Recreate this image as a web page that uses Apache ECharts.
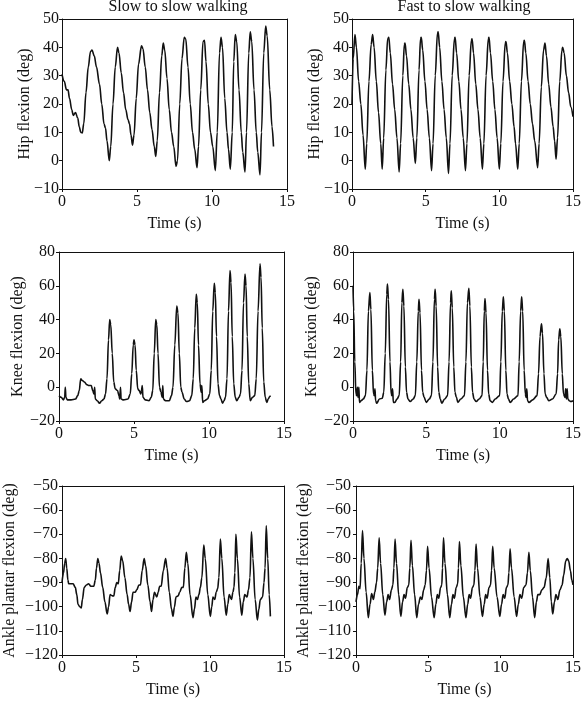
<!DOCTYPE html>
<html>
<head>
<meta charset="utf-8">
<script src="https://cdn.jsdelivr.net/npm/echarts@6/dist/echarts.min.js"></script>
<style>html,body{margin:0;padding:0;background:#fff}#c{width:584px;height:701px}</style>
</head>
<body>
<div id="c"></div>
<script>
var columnTitles = ["Slow to slow walking", "Fast to slow walking"];
var yNames = ["Hip flexion (deg)", "Knee flexion (deg)", "Ankle plantar flexion (deg)"];
var xName = "Time (s)";
var xTicks = [0, 5, 10, 15];
var hipTicks = [-10, 0, 10, 20, 30, 40, 50];
var kneeTicks = [-20, 0, 20, 40, 60, 80];
var ankleTicks = [-120, -110, -100, -90, -80, -70, -60, -50];

var hipSlow = [[0,30.5],[0.15,28],[0.3,25],[0.4,25],[0.5,22],[0.65,18],[0.75,16],[0.9,17],[1.05,15],[1.15,12],[1.25,10],[1.35,9.8],[1.45,13],[1.6,24],[1.75,33],[1.9,38.5],[2.0,39],[2.15,37],[2.3,33],[2.5,27],[2.65,20],[2.8,13],[2.9,11.5],[3.0,7],[3.15,0],[3.25,5],[3.4,20],[3.55,33],[3.7,40],[3.8,38],[3.95,31],[4.1,24],[4.25,18],[4.4,14.5],[4.5,13],[4.6,9],[4.7,5.5],[4.8,9],[4.95,22],[5.1,34],[5.3,40.5],[5.4,39.5],[5.55,33],[5.7,25],[5.85,17],[6.0,11],[6.15,5],[6.25,1.5],[6.35,7],[6.5,24],[6.65,37],[6.75,41.5],[6.85,39],[7.0,29],[7.15,18],[7.3,10],[7.45,5],[7.6,-2],[7.7,0],[7.85,20],[8.0,36],[8.15,43.5],[8.25,43],[8.4,33],[8.55,20],[8.7,10],[8.85,4],[9.0,-2.5],[9.1,5],[9.25,25],[9.4,42],[9.5,42.5],[9.6,35],[9.75,20],[9.9,10],[10.05,5],[10.22,-3.5],[10.35,10],[10.5,38],[10.6,43.5],[10.7,40],[10.85,22],[11.0,10],[11.1,4],[11.22,-3],[11.35,10],[11.45,35],[11.55,44.5],[11.65,42],[11.8,25],[11.95,10],[12.05,3],[12.2,-4],[12.3,10],[12.45,38],[12.55,45.5],[12.65,42],[12.8,25],[12.95,10],[13.05,3],[13.2,-5],[13.3,10],[13.45,38],[13.58,47.5],[13.68,44],[13.85,25],[14.0,12],[14.1,5]];

var hipFast = [[0,20],[0.08,36],[0.2,44.5],[0.3,40],[0.45,28],[0.6,20],[0.75,9],[0.9,-3],[1.0,6],[1.15,28],[1.3,41],[1.4,44.5],[1.5,40],[1.65,28],[1.8,17],[1.95,6],[2.05,-3],[2.15,8],[2.3,32],[2.42,43],[2.5,43.5],[2.6,38],[2.75,27],[2.9,18],[3.05,8],[3.2,-4],[3.3,6],[3.45,30],[3.55,41],[3.6,41.5],[3.7,37],[3.85,27],[4.0,18],[4.15,8],[4.3,-1],[4.4,8],[4.55,32],[4.65,43],[4.7,43.5],[4.8,39],[4.95,28],[5.1,18],[5.25,8],[5.4,-3.5],[5.5,6],[5.65,30],[5.8,45],[5.85,45.5],[5.95,40],[6.1,28],[6.25,18],[6.4,8],[6.55,-4.5],[6.65,6],[6.8,30],[6.95,43],[7.0,43.5],[7.1,38],[7.25,28],[7.4,18],[7.55,8],[7.7,-3.5],[7.8,6],[7.95,30],[8.1,42.5],[8.15,43],[8.25,38],[8.4,27],[8.55,18],[8.7,8],[8.85,-3],[8.95,6],[9.1,30],[9.25,43],[9.3,43.5],[9.4,38],[9.55,28],[9.7,18],[9.85,8],[10.0,-3],[10.1,6],[10.25,28],[10.4,41.5],[10.45,42],[10.55,38],[10.7,28],[10.85,20],[11.0,12],[11.1,6],[11.25,-3],[11.35,6],[11.5,28],[11.65,42],[11.7,42.5],[11.8,38],[11.95,28],[12.1,20],[12.25,13],[12.4,7],[12.6,-2.5],[12.7,6],[12.85,26],[13.0,39],[13.1,41.5],[13.2,37],[13.35,27],[13.5,19],[13.65,12],[13.75,7],[13.85,0.5],[13.95,8],[14.1,28],[14.25,39],[14.3,40],[14.4,38],[14.55,30],[14.7,24],[14.85,19],[15,15.5]];

var kneeSlow = [[0,-5],[0.15,-6],[0.3,-7.5],[0.38,-6],[0.42,0],[0.46,-6],[0.55,-7.5],[0.8,-7.5],[1.1,-7],[1.25,-5],[1.35,-2],[1.45,5],[1.55,4],[1.7,3],[1.85,1.5],[2.0,1],[2.15,1],[2.25,-2],[2.33,-4],[2.38,0],[2.42,-7],[2.55,-8],[2.7,-9.5],[2.85,-8],[3.0,-7],[3.1,-4],[3.2,5],[3.3,28],[3.38,40],[3.45,37],[3.55,20],[3.65,3],[3.75,-1],[3.9,-2],[4.0,-5],[4.05,-7],[4.1,0],[4.14,-7],[4.3,-7.5],[4.6,-7],[4.75,-4],[4.85,8],[4.95,25],[5.0,28],[5.07,25],[5.15,10],[5.25,-1],[5.35,-2],[5.45,-4],[5.5,-2],[5.55,1],[5.6,-6],[5.75,-7.5],[6.0,-8],[6.15,-6],[6.25,-2],[6.35,20],[6.45,40],[6.52,37],[6.6,20],[6.7,0],[6.8,-3],[6.88,-6],[6.92,1],[6.96,-7],[7.1,-8],[7.35,-8],[7.5,-5],[7.6,0],[7.72,25],[7.85,48],[7.93,44],[8.02,20],[8.12,0],[8.2,-3],[8.35,-7],[8.5,-8.5],[8.7,-8],[8.85,-5],[8.95,5],[9.05,35],[9.15,55],[9.22,50],[9.3,25],[9.4,2],[9.48,-3],[9.52,1],[9.58,-9],[9.7,-8],[9.9,-7],[10.05,-4],[10.15,10],[10.25,45],[10.35,61.5],[10.42,56],[10.5,30],[10.6,2],[10.7,-5],[10.8,-7],[10.9,-9.5],[11.0,-8],[11.1,-6],[11.2,5],[11.3,45],[11.4,69],[11.47,62],[11.55,30],[11.65,2],[11.75,-6],[11.85,-8],[12.0,-6],[12.1,-4],[12.2,10],[12.3,50],[12.4,67],[12.47,60],[12.55,30],[12.65,2],[12.75,-8],[12.9,-6],[13.05,-5],[13.15,5],[13.27,45],[13.4,73],[13.47,65],[13.55,35],[13.65,3],[13.75,-6],[13.85,-9],[13.95,-7],[14.05,-5.5],[14.1,-5]];

var kneeFast = [[0,60],[0.05,45],[0.12,15],[0.2,-4],[0.25,-5],[0.3,0],[0.34,-6],[0.4,0],[0.44,-9],[0.55,-8],[0.7,-7],[0.85,-5],[0.95,10],[1.05,45],[1.15,56],[1.22,46],[1.32,10],[1.4,-4],[1.45,-5],[1.5,-1],[1.54,-8],[1.62,-9.5],[1.8,-7],[2.0,-6.5],[2.1,-3],[2.2,20],[2.3,55],[2.35,61],[2.42,52],[2.52,15],[2.6,-4],[2.65,-5],[2.7,-1],[2.75,-9],[2.85,-9],[3.0,-7],[3.15,-5],[3.25,15],[3.33,50],[3.4,58],[3.47,48],[3.57,12],[3.65,-3],[3.75,-7],[3.9,-8.5],[4.1,-7],[4.25,-5],[4.35,15],[4.45,45],[4.5,52],[4.57,44],[4.67,10],[4.75,-3],[4.85,-6],[5.0,-9],[5.2,-7],[5.35,-5],[5.45,15],[5.55,52],[5.6,58],[5.67,48],[5.77,12],[5.85,-3],[5.95,-7],[6.05,-9.5],[6.25,-7],[6.45,-5],[6.55,15],[6.65,50],[6.7,57],[6.77,47],[6.87,12],[6.95,-3],[7.05,-6],[7.15,-9],[7.35,-7],[7.6,-5],[7.7,15],[7.8,50],[7.9,58.5],[7.97,48],[8.07,12],[8.15,-3],[8.25,-7],[8.4,-8.5],[8.6,-7],[8.8,-5],[8.88,15],[8.95,45],[9.0,52.5],[9.07,44],[9.17,10],[9.25,-4],[9.35,-8],[9.5,-9],[9.7,-7],[10.0,-5],[10.08,15],[10.18,45],[10.25,53.5],[10.32,45],[10.42,10],[10.5,-4],[10.6,-7],[10.72,-9],[10.95,-7],[11.25,-5],[11.33,15],[11.43,45],[11.5,53.5],[11.57,45],[11.67,10],[11.75,-4],[11.8,-6],[11.85,-1],[11.9,-8],[12.0,-9],[12.25,-7.5],[12.55,-5],[12.65,8],[12.75,30],[12.85,37.5],[12.92,32],[13.02,8],[13.1,-4],[13.2,-6],[13.35,-8],[13.6,-7],[13.85,-4],[13.95,8],[14.02,28],[14.1,34.5],[14.17,30],[14.27,8],[14.35,-4],[14.45,-6],[14.5,-1],[14.55,-7],[14.6,-1],[14.65,-7],[14.75,-8],[14.85,-8.5],[15,-8]];

var ankleSlow = [[0,-90],[0.1,-86],[0.18,-82],[0.25,-80],[0.32,-84],[0.4,-89],[0.45,-90.5],[0.6,-90.5],[0.75,-90.5],[0.9,-92],[1.0,-95],[1.08,-99],[1.2,-100],[1.3,-100.5],[1.38,-97],[1.5,-92],[1.65,-91],[1.8,-90.5],[1.95,-91.5],[2.15,-91.5],[2.25,-89],[2.33,-84],[2.42,-80],[2.5,-82],[2.6,-86],[2.75,-92],[2.9,-98],[3.05,-103],[3.15,-100],[3.25,-95],[3.4,-95.5],[3.5,-95.5],[3.6,-92],[3.7,-90],[3.8,-90.5],[3.9,-85],[4.0,-79],[4.1,-81],[4.25,-88],[4.4,-95],[4.5,-99],[4.6,-102],[4.7,-98],[4.8,-94],[4.95,-94],[5.05,-93],[5.2,-91],[5.3,-91],[5.42,-85],[5.55,-80],[5.65,-83],[5.8,-91],[5.95,-98],[6.05,-102],[6.15,-97],[6.25,-94],[6.4,-96],[6.5,-94],[6.6,-91.5],[6.7,-91.5],[6.85,-85],[7.0,-80],[7.1,-84],[7.25,-94],[7.4,-101],[7.5,-104],[7.6,-100],[7.7,-96],[7.85,-95.5],[7.95,-94],[8.1,-92],[8.2,-92],[8.3,-84],[8.4,-77.5],[8.5,-82],[8.65,-95],[8.85,-104.5],[8.95,-101],[9.05,-96],[9.15,-97],[9.25,-95],[9.35,-92],[9.45,-88],[9.58,-74.5],[9.68,-80],[9.85,-95],[10.02,-104],[10.12,-100],[10.2,-96],[10.32,-97],[10.42,-94],[10.52,-92.5],[10.6,-88],[10.7,-72],[10.8,-80],[10.95,-96],[11.1,-103.5],[11.2,-99],[11.3,-95],[11.45,-97],[11.55,-94],[11.62,-92],[11.68,-86],[11.75,-70],[11.85,-80],[12.0,-96],[12.15,-103.5],[12.25,-98],[12.35,-95],[12.5,-96],[12.6,-93],[12.7,-88],[12.8,-69],[12.9,-80],[13.05,-97],[13.2,-105.5],[13.3,-101],[13.4,-97],[13.55,-96],[13.65,-90],[13.72,-84],[13.8,-66.5],[13.9,-80],[14.0,-95],[14.08,-104]];

var ankleFast = [[0,-98],[0.1,-95],[0.2,-91.5],[0.28,-92.5],[0.36,-82],[0.45,-68.5],[0.55,-80],[0.7,-94],[0.85,-104.5],[0.97,-99],[1.08,-94.5],[1.2,-97],[1.3,-94],[1.42,-90],[1.5,-84],[1.6,-71.5],[1.7,-82],[1.85,-95],[2.0,-103.5],[2.12,-98],[2.22,-95],[2.32,-97],[2.45,-93],[2.55,-91],[2.62,-84],[2.7,-72],[2.8,-82],[2.95,-95],[3.1,-104],[3.22,-98],[3.32,-95],[3.42,-96.5],[3.55,-92],[3.65,-91],[3.72,-84],[3.8,-72.5],[3.9,-83],[4.05,-95],[4.2,-104.5],[4.32,-99],[4.45,-96],[4.55,-97],[4.68,-93],[4.78,-91],[4.87,-85],[4.95,-75],[5.05,-84],[5.22,-96],[5.4,-104.5],[5.52,-99],[5.62,-95],[5.72,-96.5],[5.85,-92],[5.93,-91],[5.98,-84],[6.05,-71.5],[6.15,-82],[6.32,-95],[6.48,-104.5],[6.6,-99],[6.7,-95],[6.8,-96.5],[6.93,-92],[7.03,-90.5],[7.08,-84],[7.15,-73],[7.25,-83],[7.42,-96],[7.6,-104.5],[7.72,-99],[7.82,-95],[7.92,-96.5],[8.05,-92],[8.15,-91],[8.22,-85],[8.3,-74],[8.4,-84],[8.57,-96],[8.74,-104],[8.86,-99],[8.96,-95],[9.06,-96.5],[9.2,-92],[9.3,-91],[9.37,-85],[9.45,-75],[9.55,-84],[9.75,-96],[9.94,-104],[10.06,-99],[10.17,-95],[10.28,-96.5],[10.4,-92],[10.5,-91],[10.57,-86],[10.65,-76],[10.75,-84],[10.93,-96],[11.1,-104],[11.22,-99],[11.33,-95],[11.45,-96.5],[11.6,-92],[11.75,-91],[11.85,-86],[11.95,-77.5],[12.05,-85],[12.2,-96],[12.35,-104.5],[12.47,-98],[12.57,-95],[12.7,-95],[12.85,-93],[13.0,-92],[13.15,-88],[13.28,-80],[13.4,-88],[13.5,-98],[13.6,-103],[13.72,-98],[13.82,-95],[13.95,-97],[14.1,-93],[14.25,-91],[14.35,-87],[14.5,-81],[14.6,-80],[14.7,-81],[14.82,-85],[14.92,-89],[15,-91]];

var FONT = "Liberation Serif";
var panels = [
  {data: hipSlow,   ticks: hipTicks,   step: 10, name: yNames[0], grid: {left: 62,  top: 19,  width: 225, height: 170}, nameGap: 29, margin: 3},
  {data: hipFast,   ticks: hipTicks,   step: 10, name: yNames[0], grid: {left: 352, top: 19,  width: 223, height: 170}, nameGap: 29, margin: 3},
  {data: kneeSlow,  ticks: kneeTicks,  step: 20, name: yNames[1], grid: {left: 59,  top: 252, width: 225, height: 169}, nameGap: 33, margin: 4},
  {data: kneeFast,  ticks: kneeTicks,  step: 20, name: yNames[1], grid: {left: 353, top: 252, width: 224, height: 169}, nameGap: 33, margin: 4},
  {data: ankleSlow, ticks: ankleTicks, step: 10, name: yNames[2], grid: {left: 62,  top: 486, width: 222, height: 169}, nameGap: 44, margin: 4},
  {data: ankleFast, ticks: ankleTicks, step: 10, name: yNames[2], grid: {left: 356, top: 486, width: 221, height: 169}, nameGap: 44, margin: 5}
];

function fmt(v) { return String(v).replace('-', '\u2212'); }
var txt = {color: '#111', fontFamily: FONT, fontSize: 16};
var line = {lineStyle: {color: '#111', width: 1}};

var grids = [], xAxes = [], yAxes = [], series = [];
panels.forEach(function (p, i) {
  grids.push(Object.assign({}, p.grid, {show: false}));
  xAxes.push({
    type: 'value', gridIndex: i, min: xTicks[0], max: xTicks[xTicks.length - 1], interval: 5,
    position: 'bottom',
    axisLine: Object.assign({show: true, onZero: false}, line),
    axisTick: {show: true, inside: false, length: 3, lineStyle: {color: '#111'}},
    axisLabel: Object.assign({margin: 5, formatter: fmt}, txt),
    splitLine: {show: false},
    name: xName, nameLocation: 'middle', nameGap: 27, nameMoveOverlap: false, nameTextStyle: txt
  });
  xAxes.push({
    type: 'value', gridIndex: i, min: xTicks[0], max: xTicks[xTicks.length - 1],
    position: 'top', axisLine: Object.assign({show: true, onZero: false}, line),
    axisTick: {show: false}, axisLabel: {show: false}, splitLine: {show: false}
  });
  yAxes.push({
    type: 'value', gridIndex: i, min: p.ticks[0], max: p.ticks[p.ticks.length - 1], interval: p.step,
    position: 'left',
    axisLine: Object.assign({show: true, onZero: false}, line),
    axisTick: {show: true, inside: false, length: 3, lineStyle: {color: '#111'}},
    axisLabel: Object.assign({margin: p.margin, formatter: fmt}, txt),
    splitLine: {show: false},
    name: p.name, nameLocation: 'middle', nameGap: p.nameGap, nameMoveOverlap: false, nameTextStyle: txt
  });
  yAxes.push({
    type: 'value', gridIndex: i, min: p.ticks[0], max: p.ticks[p.ticks.length - 1],
    position: 'right', axisLine: Object.assign({show: true, onZero: false}, line),
    axisTick: {show: false}, axisLabel: {show: false}, splitLine: {show: false}
  });
  series.push({
    type: 'line', xAxisIndex: 2 * i, yAxisIndex: 2 * i, data: p.data,
    showSymbol: false, smooth: 0.35, smoothMonotone: 'x',
    lineStyle: {color: '#111', width: 1.6}, silent: true, animation: false
  });
});

var chart = echarts.init(document.getElementById('c'), null, {renderer: 'canvas'});
chart.setOption({
  animation: false,
  backgroundColor: '#fff',
  grid: grids, xAxis: xAxes, yAxis: yAxes, series: series,
  graphic: [
    {type: 'text', x: 178, y: 7, style: {text: columnTitles[0], fill: '#111', font: '16px "' + FONT + '"', textAlign: 'center', textVerticalAlign: 'middle'}},
    {type: 'text', x: 464, y: 7, style: {text: columnTitles[1], fill: '#111', font: '16px "' + FONT + '"', textAlign: 'center', textVerticalAlign: 'middle'}}
  ]
});
</script>
</body>
</html>
